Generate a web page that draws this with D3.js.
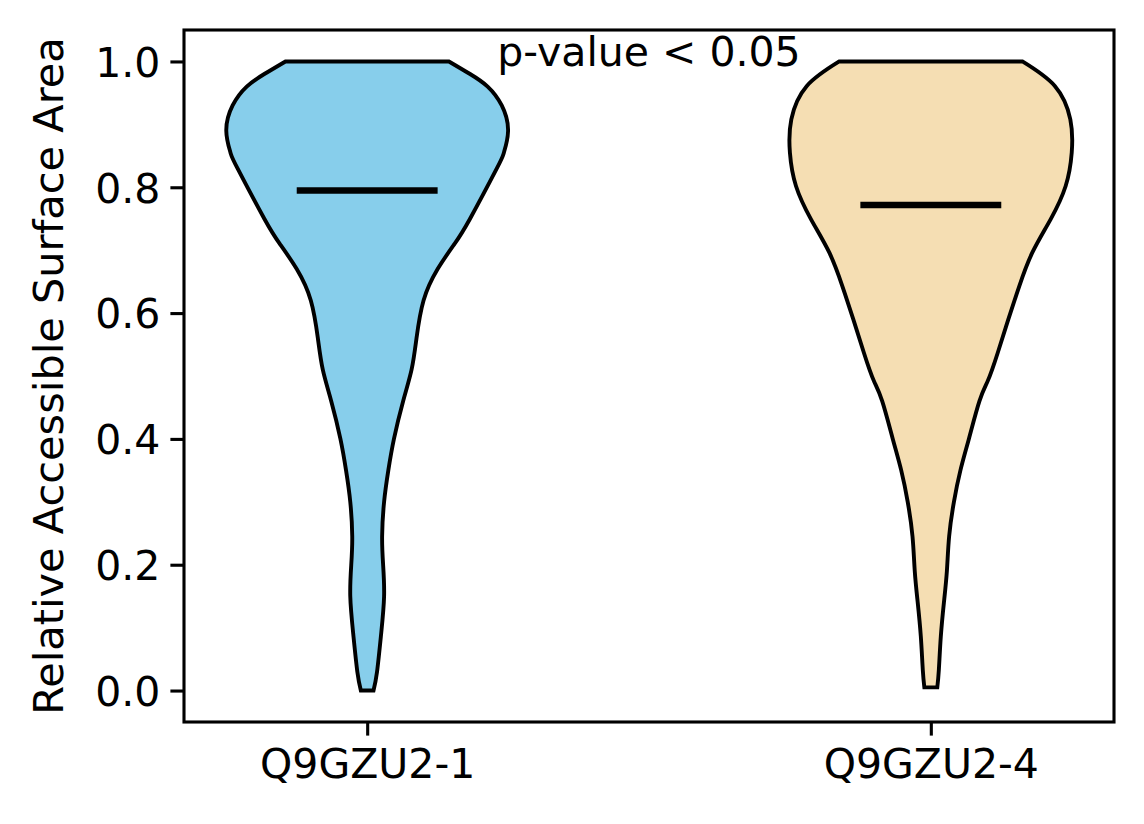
<!DOCTYPE html>
<html>
<head>
<meta charset="utf-8">
<script src="https://cdn.jsdelivr.net/npm/d3@7"></script>
<style>
  body { margin: 0; background: #fff; }
  text { font-family: "DejaVu Sans", sans-serif; }
</style>
</head>
<body>
<div id="chart"></div>
<script>
// Groups and their positions on the x axis
const groups = ["Q9GZU2-1", "Q9GZU2-4"];
const positions = [1, 2];
const colors = ["#87CEEB", "#F5DEB3"];

// Violin outlines: RSA value and relative density (max = 1)
const rsa1 = [0, 0.03, 0.09, 0.15, 0.20, 0.245, 0.30, 0.35, 0.40, 0.46, 0.51, 0.56, 0.62, 0.67, 0.71, 0.75, 0.83, 0.855, 0.89, 0.93, 0.96, 0.98, 1.0];
const dens1 = [0.045, 0.07, 0.099, 0.12, 0.113, 0.106, 0.12, 0.15, 0.19, 0.255, 0.315, 0.35, 0.40, 0.50, 0.62, 0.73, 0.92, 0.97, 1.0, 0.955, 0.855, 0.73, 0.58];

const rsa2 = [0.005, 0.033, 0.086, 0.14, 0.19, 0.245, 0.30, 0.35, 0.40, 0.46, 0.49, 0.51, 0.537, 0.59, 0.643, 0.696, 0.749, 0.802, 0.855, 0.908, 0.961, 1.0];
const dens2 = [0.046, 0.057, 0.071, 0.093, 0.114, 0.13, 0.164, 0.21, 0.27, 0.345, 0.40, 0.435, 0.475, 0.55, 0.628, 0.72, 0.85, 0.957, 1.0, 0.99, 0.88, 0.65];

const medians = [0.795, 0.772];
const yTicks = [0, 0.2, 0.4, 0.6, 0.8, 1.0];
const annotation = "p-value < 0.05";

const W = 1144, H = 824;
const margin = { top: 30, right: 30, bottom: 102, left: 184 };
const violinWidth = 0.5;
const fontSize = "41px";

const svg = d3.select("#chart").append("svg")
    .attr("width", W)
    .attr("height", H);

const x = d3.scaleLinear()
    .domain([0.675, 2.325])
    .range([margin.left, W - margin.right]);

const y = d3.scaleLinear()
    .domain([-0.05, 1.05])
    .range([H - margin.bottom, margin.top]);

const halfPx = x(1 + violinWidth / 2) - x(1);

const violins = [
  rsa1.map((v, i) => ({ v: v, d: dens1[i] })),
  rsa2.map((v, i) => ({ v: v, d: dens2[i] }))
];

violins.forEach((pts, i) => {
  const cx = x(positions[i]);
  const area = d3.area()
      .curve(d3.curveNatural)
      .y(d => y(d.v))
      .x0(d => cx - d.d * halfPx)
      .x1(d => cx + d.d * halfPx);

  svg.append("path")
     .datum(pts)
     .attr("d", area)
     .attr("fill", colors[i])
     .attr("stroke", "#000")
     .attr("stroke-width", 3.9)
     .attr("stroke-linejoin", "miter");

  // median line spans a quarter of the width each side
  svg.append("line")
     .attr("x1", x(positions[i] - violinWidth / 4))
     .attr("x2", x(positions[i] + violinWidth / 4))
     .attr("y1", y(medians[i]))
     .attr("y2", y(medians[i]))
     .attr("stroke", "#000")
     .attr("stroke-width", 6.5);
});

// axes
const yAxis = svg.append("g")
    .attr("transform", `translate(${margin.left},0)`)
    .call(d3.axisLeft(y).tickValues(yTicks).tickFormat(d3.format(".1f"))
            .tickSize(13.6).tickPadding(10));

const xAxis = svg.append("g")
    .attr("transform", `translate(0,${H - margin.bottom})`)
    .call(d3.axisBottom(x).tickValues(positions).tickFormat((d, i) => groups[i])
            .tickSize(13.6).tickPadding(12));

[yAxis, xAxis].forEach(g => {
  g.select(".domain").remove();
  g.selectAll(".tick line").attr("stroke", "#000").attr("stroke-width", 3.1);
  g.selectAll(".tick text")
   .attr("fill", "#000")
   .style("font-size", fontSize)
   .style("font-family", "DejaVu Sans");
});
yAxis.selectAll(".tick text").attr("dy", "0.36em");
xAxis.selectAll(".tick text").attr("dy", "0.74em");

// frame
svg.append("rect")
   .attr("x", margin.left)
   .attr("y", margin.top)
   .attr("width", W - margin.left - margin.right)
   .attr("height", H - margin.top - margin.bottom)
   .attr("fill", "none")
   .attr("stroke", "#000")
   .attr("stroke-width", 3.1);

// y label
svg.append("text")
   .attr("transform", `translate(63,${(margin.top + H - margin.bottom) / 2}) rotate(-90)`)
   .attr("text-anchor", "middle")
   .style("font-size", "41.5px")
   .text("Relative Accessible Surface Area");

// annotation
svg.append("text")
   .attr("x", x(1.5))
   .attr("y", y(1.0) + 5)
   .attr("text-anchor", "middle")
   .style("font-size", fontSize)
   .text(annotation);
</script>
</body>
</html>
